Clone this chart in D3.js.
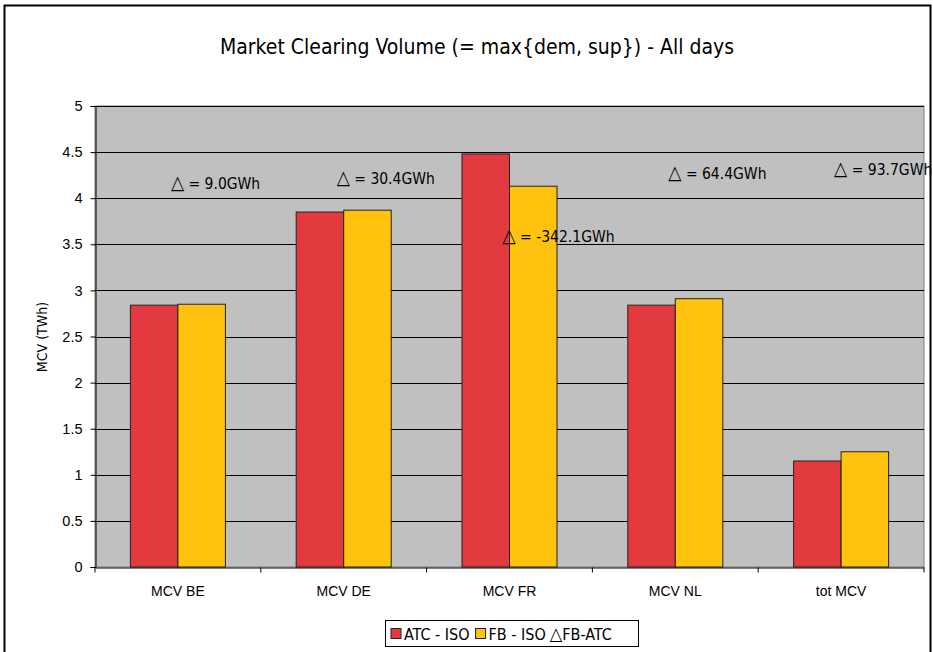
<!DOCTYPE html>
<html><head><meta charset="utf-8">
<script src="https://cdn.jsdelivr.net/npm/d3@7"></script>
<style>body{margin:0;background:#fff;}svg{display:block;font-family:"DejaVu Sans Condensed","DejaVu Sans",sans-serif;}</style>
</head><body>
<svg id="c" width="933" height="652"></svg>
<script>
const categories = ["MCV BE","MCV DE","MCV FR","MCV NL","tot MCV"];
const atcIso = [2.84, 3.85, 4.48, 2.84, 1.15];
const fbIso  = [2.85, 3.87, 4.13, 2.91, 1.25];
const deltaPos = [4.17, 4.22, 3.59, 4.27, 4.32];
const deltaLabels = ["= 9.0GWh","= 30.4GWh","= -342.1GWh","= 64.4GWh","= 93.7GWh"];
const yTicks = [0,0.5,1,1.5,2,2.5,3,3.5,4,4.5,5];
const seriesNames = ["ATC - ISO","FB - ISO","FB-ATC"];
const colors = ["#E33A40","#FFC20E"];

const svg = d3.select("#c");
svg.append("rect").attr("x",4.5).attr("y",5.5).attr("width",926).attr("height",660)
  .attr("fill","#fff").attr("stroke","#000").attr("stroke-width",2);

const L=95,R=924,T=106,B=567;
const x = d3.scaleBand().domain(categories).range([L,R]);
const y = d3.scaleLinear().domain([0,5]).range([B,T]);
const xs = d3.scaleBand().domain([0,1]).range([0,x.bandwidth()]).paddingInner(0).paddingOuter(0.745);

svg.append("rect").attr("x",L).attr("y",T).attr("width",R-L).attr("height",B-T)
  .attr("fill","#C0C0C0").attr("stroke","#808080").attr("stroke-width",1);

// grid
svg.append("g").selectAll("line").data(yTicks.filter(d=>d>0)).join("line")
  .attr("x1",L).attr("x2",R).attr("y1",d=>Math.round(y(d))+0.5).attr("y2",d=>Math.round(y(d))+0.5)
  .attr("stroke","#000").attr("stroke-width",1);

// bars
const g = svg.append("g");
[atcIso, fbIso].forEach((vals,si)=>{
  g.selectAll(null).data(vals).join("rect")
    .attr("x",(d,i)=>x(categories[i])+xs(si))
    .attr("y",d=>y(d))
    .attr("width",xs.bandwidth())
    .attr("height",d=>B-y(d))
    .attr("fill",colors[si]).attr("stroke","#222").attr("stroke-width",1);
});

// axes
const ya = d3.axisLeft(y).tickValues(yTicks).tickSize(5).tickFormat(d3.format("~g"));
const yg = svg.append("g").attr("transform",`translate(${L+0.5},0)`).call(ya);
yg.select(".domain").attr("stroke","#000");
yg.selectAll("text").attr("font-size","14.5px").attr("fill","#000").attr("dx","-5");

const xa = d3.axisBottom(x).tickSize(5).tickSizeOuter(0);
const xg = svg.append("g").attr("transform",`translate(0,${B+0.5})`).call(xa);
xg.selectAll(".tick line").attr("transform",`translate(${-x.bandwidth()/2},0)`);
xg.append("line").attr("x1",R).attr("x2",R).attr("y1",0).attr("y2",5).attr("stroke","#000");
xg.selectAll("text").attr("font-size","14px").attr("fill","#000").attr("dy","1.45em");

// delta labels
const dl = svg.append("g");
const dt = dl.selectAll("text").data(deltaPos).join("text")
  .attr("x",(d,i)=>x(categories[i])+x.bandwidth()/2-7)
  .attr("y",d=>y(d)+6)
  .attr("font-size","15.5px").attr("fill","#000");
dt.append("tspan").attr("font-size","19px").text("△");
dt.append("tspan").text((d,i)=>" "+deltaLabels[i]);

// title
svg.append("text").attr("x",477).attr("y",54).attr("text-anchor","middle")
  .attr("font-size","21px").attr("fill","#000").text("Market Clearing Volume (= max{dem, sup}) - All days");
// y label
svg.append("text").attr("transform","translate(47,337) rotate(-90)").attr("text-anchor","middle")
  .attr("font-size","14px").attr("fill","#000").text("MCV (TWh)");

// legend
const lg = svg.append("g");
lg.append("rect").attr("x",385.5).attr("y",620.5).attr("width",253).attr("height",26)
  .attr("fill","#fff").attr("stroke","#000");
let lx = 391;
[0,1].forEach(i=>{
  lg.append("rect").attr("x",lx).attr("y",628.5).attr("width",10).attr("height",10)
    .attr("fill",colors[i]).attr("stroke","#222");
  const t = lg.append("text").attr("x",lx+13).attr("y",639.5).attr("font-size","16px").text(seriesNames[i]);
  lx += 13 + t.node().getComputedTextLength() + 6;
});
const lt = lg.append("text").attr("x",lx-2).attr("y",639.5).attr("font-size","16px");
lt.append("tspan").attr("font-size","18px").text("△");
lt.append("tspan").text(seriesNames[2]);
</script>
</body></html>
